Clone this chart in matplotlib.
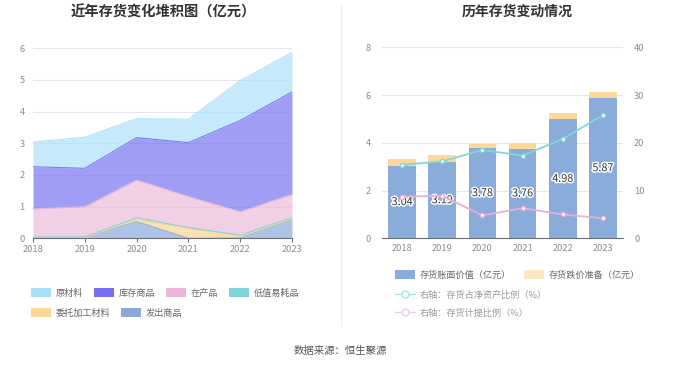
import matplotlib
matplotlib.use("Agg")
import matplotlib.pyplot as plt
from matplotlib.patches import Patch
from matplotlib.lines import Line2D
import matplotlib.patheffects as pe
import numpy as np

plt.rcParams['font.family'] = ['Noto Sans CJK SC', 'DejaVu Sans']

years = ['2018', '2019', '2020', '2021', '2022', '2023']

# Left: stacked area (亿元), bottom to top
fachu = [0.01, 0.01, 0.53, 0.00, 0.01, 0.58]        # 发出商品
weituo = [0.00, 0.00, 0.08, 0.31, 0.06, 0.04]       # 委托加工材料
dizhi = [0.03, 0.03, 0.04, 0.03, 0.03, 0.03]        # 低值易耗品
zaichan = [0.89, 0.96, 1.19, 0.98, 0.74, 0.74]      # 在产品
kucun = [1.33, 1.21, 1.34, 1.70, 2.88, 3.23]        # 库存商品
yuancai = [0.78, 0.98, 0.60, 0.74, 1.26, 1.25]      # 原材料

# Right: bars and lines
book_value = [3.04, 3.19, 3.78, 3.76, 4.98, 5.87]   # 存货账面价值（亿元）
provision = [0.28, 0.30, 0.19, 0.23, 0.26, 0.25]    # 存货跌价准备（亿元）
ratio_net = [15.4, 16.1, 18.5, 17.3, 20.8, 25.8]    # 存货占净资产比例（%）
ratio_prov = [8.7, 8.9, 4.8, 6.3, 5.0, 4.2]         # 存货计提比例（%）

W, H = 680, 367
fig = plt.figure(figsize=(W / 100, H / 100), dpi=100)

def box(x0, y0, x1, y1):
    return [x0 / W, 1 - y1 / H, (x1 - x0) / W, (y1 - y0) / H]

tick_color = '#8c8c8c'
grid_color = '#e3e6ee'
axis_color = '#6e7079'

# ---------- Left chart ----------
ax1 = fig.add_axes(box(33, 48.3, 292, 238.3))
x = np.arange(len(years))
series = [fachu, weituo, dizhi, zaichan, kucun, yuancai]
fill_colors = ['#8aaadc', '#fdd699', '#80d5d6', '#eab7d8', '#7470f0', '#a8e0fb']
alphas = [0.7, 0.75, 0.8, 0.65, 0.68, 0.65]
base = np.zeros(len(years))
for vals, c, a in zip(series, fill_colors, alphas):
    top = base + np.array(vals)
    ax1.fill_between(x, base, top, color=c, alpha=a, linewidth=0, zorder=2)
    ax1.plot(x, top, color=c, linewidth=0.8, alpha=0.9, zorder=3)
    base = top
ax1.set_xlim(0, len(years) - 1)
ax1.set_ylim(0, 6)
ax1.set_yticks(range(0, 7))
ax1.set_xticks(x)
ax1.set_xticklabels(years)
ax1.grid(axis='y', color=grid_color, linewidth=0.8, zorder=0)
for s in ['top', 'right', 'left']:
    ax1.spines[s].set_visible(False)
ax1.spines['bottom'].set_color(axis_color)
ax1.spines['bottom'].set_linewidth(0.8)
ax1.tick_params(axis='y', length=0, labelsize=6.7, labelcolor=tick_color, pad=6)
ax1.tick_params(axis='x', length=3, color=axis_color, labelsize=6.7, labelcolor=tick_color, pad=2)
ax1.set_axisbelow(True)

fig.text(163 / W, 1 - 12 / H, '近年存货变化堆积图（亿元）', ha='center', va='center',
         fontsize=10.3, fontweight='bold', color='#333333')

# legend left
leg_colors = {'原材料': '#a8e0fb', '库存商品': '#7470f0', '在产品': '#eab7d8',
              '低值易耗品': '#80d5d6', '委托加工材料': '#fdd699', '发出商品': '#8aaadc'}
row1 = ['原材料', '库存商品', '在产品', '低值易耗品']
row2 = ['委托加工材料', '发出商品']
for row, yy in [(row1, 293), (row2, 313)]:
    handles = [Patch(facecolor=leg_colors[n], edgecolor='none') for n in row]
    fig.legend(handles, row, loc='center left', bbox_to_anchor=(26 / W, 1 - yy / H),
               ncol=len(row), frameon=False, fontsize=6.6, handlelength=2.2,
               handleheight=1.1, handletextpad=0.5, columnspacing=1.2, borderpad=0,
               labelcolor='#666666')

# divider
fig.add_artist(Line2D([341 / W, 341 / W], [1 - 5 / H, 1 - 325 / H], color='#eeeeee', linewidth=0.8))

# ---------- Right chart ----------
ax2 = fig.add_axes(box(382, 47.3, 623, 238.3))
ax2.bar(x, book_value, width=0.69, color='#8aacda', zorder=2)
ax2.bar(x, provision, width=0.69, bottom=book_value, color='#fdd89a', zorder=2)
for xi, v in zip(x, book_value):
    ax2.text(xi, v / 2, f'{v:.2f}', ha='center', va='center', fontsize=7.8, color='#333333',
             path_effects=[pe.withStroke(linewidth=2.2, foreground='white')], zorder=6)
ax2.set_xlim(-0.5, len(years) - 0.5)
ax2.set_ylim(0, 8)
ax2.set_yticks(range(0, 9, 2))
ax2.set_xticks(x)
ax2.set_xticklabels(years)
ax2.grid(axis='y', color=grid_color, linewidth=0.8, zorder=0)
ax2.set_axisbelow(True)
for s in ['top', 'right', 'left']:
    ax2.spines[s].set_visible(False)
ax2.spines['bottom'].set_color(axis_color)
ax2.spines['bottom'].set_linewidth(0.8)
ax2.tick_params(axis='y', length=0, labelsize=6.7, labelcolor=tick_color, pad=8)
ax2.tick_params(axis='x', length=0, labelsize=6.7, labelcolor=tick_color, pad=4)

ax3 = ax2.twinx()
ax3.plot(x, ratio_net, color='#7fd8d5', linewidth=1.3, marker='o', markersize=3,
         markerfacecolor='white', markeredgewidth=1, zorder=4)
ax3.plot(x, ratio_prov, color='#e8aed6', linewidth=1.3, marker='o', markersize=3,
         markerfacecolor='white', markeredgewidth=1, zorder=4)
ax3.set_ylim(0, 40)
ax3.set_yticks(range(0, 41, 10))
for s in ['top', 'right', 'left', 'bottom']:
    ax3.spines[s].set_visible(False)
ax3.tick_params(axis='y', length=0, labelsize=6.7, labelcolor=tick_color, pad=8)

fig.text(517 / W, 1 - 12 / H, '历年存货变动情况', ha='center', va='center',
         fontsize=10, fontweight='bold', color='#333333')

# legend right
h1 = [Patch(facecolor='#8aacda', edgecolor='none'), Patch(facecolor='#fde6c4', edgecolor='none')]
fig.legend(h1, ['存货账面价值（亿元）', '存货跌价准备（亿元）'], loc='center left',
           bbox_to_anchor=(390 / W, 1 - 275 / H), ncol=2, frameon=False, fontsize=6.6,
           handlelength=2.2, handleheight=1.1, handletextpad=0.5, columnspacing=1.5,
           borderpad=0, labelcolor='#666666')
h2 = [Line2D([0], [0], color='#a9e5e3', marker='o', markersize=5, markerfacecolor='white',
             markeredgecolor='#a9e5e3', linewidth=1)]
fig.legend(h2, ['右轴：存货占净资产比例（%）'], loc='center left',
           bbox_to_anchor=(390 / W, 1 - 295 / H), frameon=False, fontsize=6.6,
           handlelength=2.2, handletextpad=0.5, borderpad=0, labelcolor='#999999')
h3 = [Line2D([0], [0], color='#f2cde6', marker='o', markersize=5, markerfacecolor='white',
             markeredgecolor='#f2cde6', linewidth=1)]
fig.legend(h3, ['右轴：存货计提比例（%）'], loc='center left',
           bbox_to_anchor=(390 / W, 1 - 313 / H), frameon=False, fontsize=6.6,
           handlelength=2.2, handletextpad=0.5, borderpad=0, labelcolor='#999999')

fig.text(340 / W, 1 - 351 / H, '数据来源：恒生聚源', ha='center', va='center',
         fontsize=7.5, color='#555555')

fig.savefig('out.png', dpi=100)
